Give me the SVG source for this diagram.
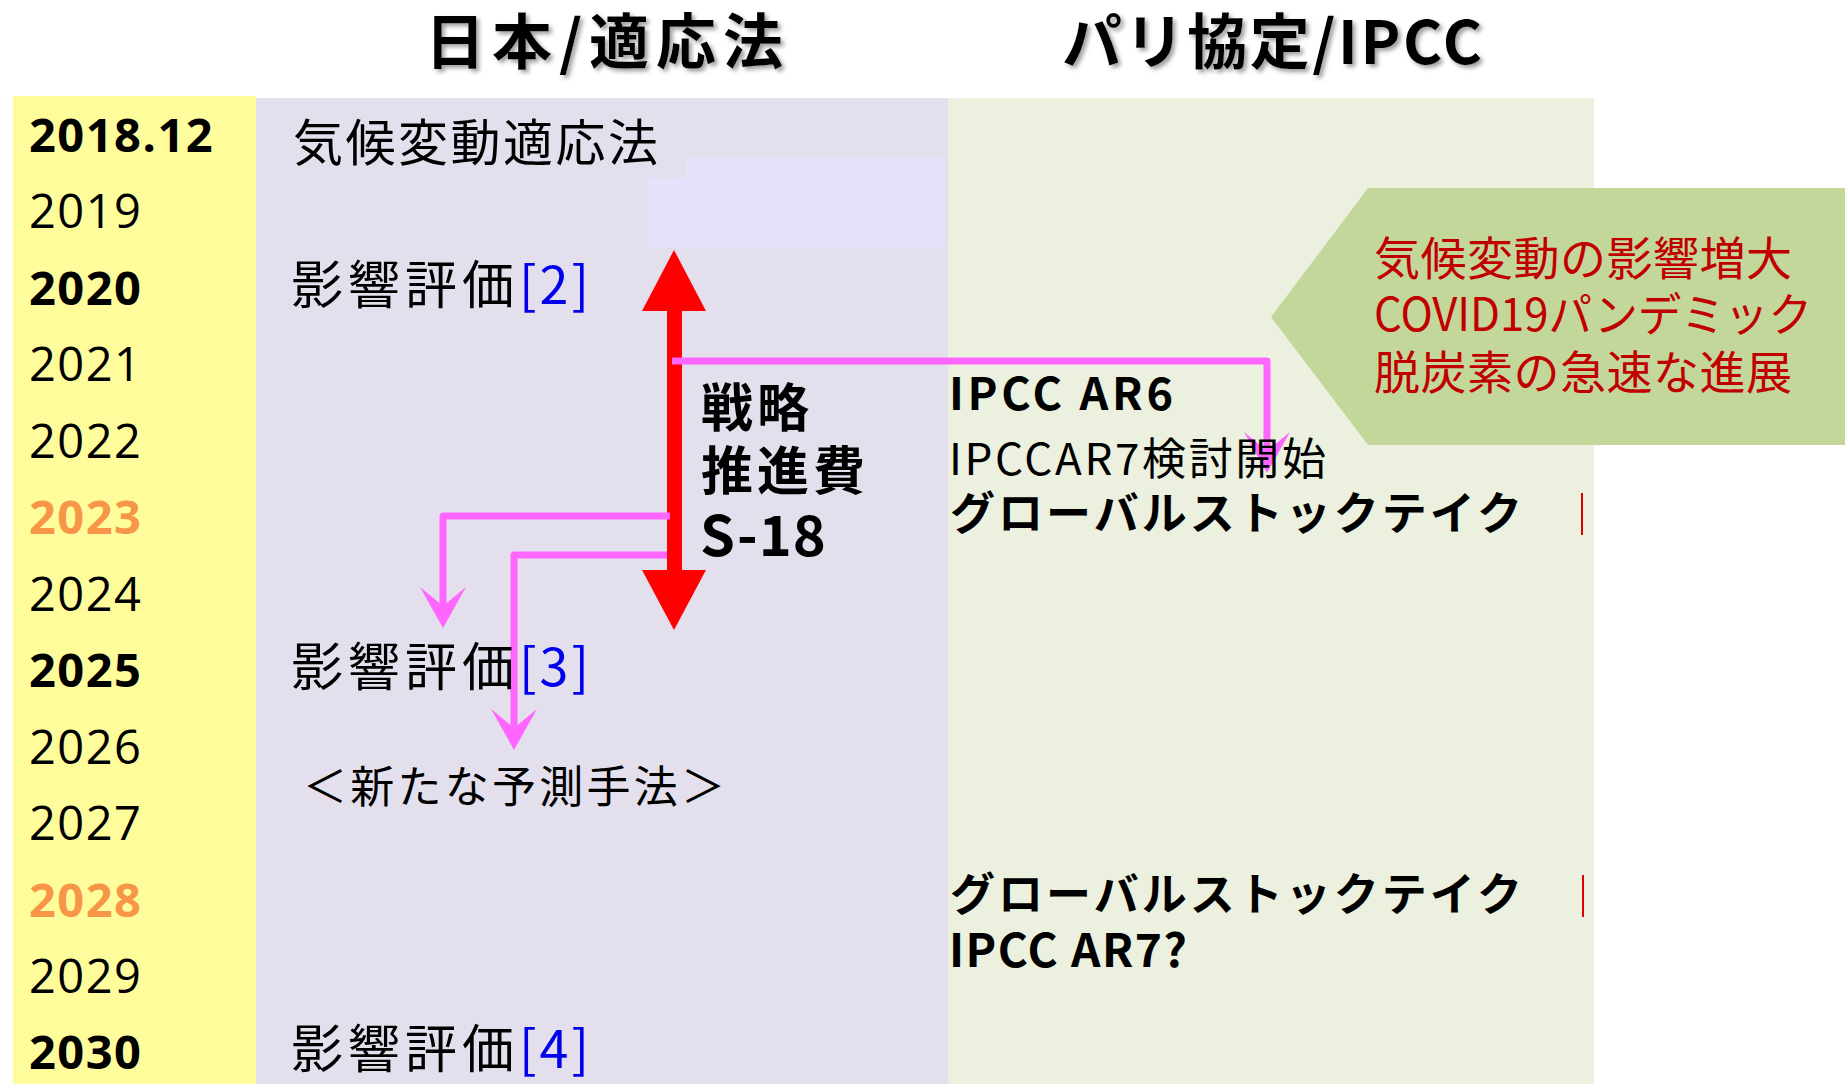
<svg xmlns="http://www.w3.org/2000/svg" width="1845" height="1084" viewBox="0 0 1845 1084">
  <defs>
    <style>
      .yr { font-family: "Open Sans", "Noto Sans", sans-serif; font-size: 47px; letter-spacing: 1.5px; fill: #000; }
      .yb { font-weight: 700; }
      .yo { font-weight: 700; fill: #F79646; }
      .jp { font-family: "Noto Sans CJK JP", "Noto Sans", sans-serif; fill: #000; }
      .title { font-size: 60px; font-weight: 700; filter: url(#shadow); }
      .eval { font-size: 52px; letter-spacing: 5px; }
      .num { fill: #0000EE; letter-spacing: 3px; }
      .red { font-family: "Noto Sans CJK JP", sans-serif; font-size: 46px; fill: #C00000; }
      .pink { fill: none; stroke: #FF66FF; stroke-width: 7; stroke-linejoin: round; marker-end: url(#pinkHead); }
    </style>
    <filter id="shadow" filterUnits="userSpaceOnUse" x="0" y="0" width="1845" height="100">
      <feDropShadow dx="3" dy="3" stdDeviation="2" flood-color="#777" flood-opacity="0.7"/>
    </filter>
    <marker id="pinkHead" markerUnits="userSpaceOnUse" markerWidth="50" markerHeight="50" viewBox="0 0 50 50" refX="23" refY="25" orient="auto">
      <path d="M45,25 L4,2 L23,25 L4,48 Z" fill="#FF66FF"/>
    </marker>
  </defs>

  <rect x="0" y="0" width="1845" height="1084" fill="#FFFFFF"/>

  <g id="columns">
    <rect x="13" y="96" width="243" height="988" fill="#FFFC9C"/>
    <rect x="256" y="98" width="692" height="986" fill="#E4DFEC"/>
    <rect x="948" y="98" width="646" height="986" fill="#EBF1DE"/>
    <polygon points="686,157 946,157 946,247 647,247 647,178 686,178" fill="#E6E0FA"/>
  </g>

  <g id="titles">
    <text class="jp title" x="425" y="64" textLength="358" lengthAdjust="spacing">日本/適応法</text>
    <text class="jp title" x="1062" y="64" textLength="420" lengthAdjust="spacing">パリ協定/IPCC</text>
  </g>

  <g id="years">
    <text class="yr yb" x="29" y="152">2018.12</text>
    <text class="yr" x="29" y="228">2019</text>
    <text class="yr yb" x="29" y="305">2020</text>
    <text class="yr" x="29" y="381">2021</text>
    <text class="yr" x="29" y="458">2022</text>
    <text class="yr yo" x="29" y="534">2023</text>
    <text class="yr" x="29" y="611">2024</text>
    <text class="yr yb" x="29" y="687">2025</text>
    <text class="yr" x="29" y="764">2026</text>
    <text class="yr" x="29" y="840">2027</text>
    <text class="yr yo" x="29" y="917">2028</text>
    <text class="yr" x="29" y="993">2029</text>
    <text class="yr yb" x="29" y="1069">2030</text>
  </g>

  <g id="connectors">
    <path id="strategy-arrow" d="M674,250 L706,311 L682,311 L682,570 L706,570 L674,630 L642,570 L667,570 L667,311 L642,311 Z" fill="#FF0000"/>
    <path class="pink" d="M672,361 H1267 V451"/>
    <path class="pink" d="M670,516 H443 V606"/>
    <path class="pink" d="M667,555 H514 V728"/>
  </g>

  <g id="law">
    <text class="jp" x="293" y="161" font-size="50" letter-spacing="2.5">気候変動適応法</text>
  </g>
  <g id="eval2">
    <text class="jp eval" x="291" y="304">影響評価<tspan class="num">[2]</tspan></text>
  </g>
  <g id="eval3">
    <text class="jp eval" x="291" y="686">影響評価<tspan class="num">[3]</tspan></text>
  </g>
  <g id="eval4">
    <text class="jp eval" x="291" y="1068">影響評価<tspan class="num">[4]</tspan></text>
  </g>
  <g id="new-method">
    <text class="jp" x="303" y="803" font-size="44" textLength="422" lengthAdjust="spacing">＜新たな予測手法＞</text>
  </g>
  <g id="strategy">
    <text class="jp" font-size="52" font-weight="700" letter-spacing="4">
      <tspan x="701" y="427">戦略</tspan>
      <tspan x="701" y="490">推進費</tspan>
    </text>
    <text class="jp" x="700" y="556" font-size="56" font-weight="700" letter-spacing="1">S-18</text>
  </g>

  <g id="ar6">
    <text class="jp" x="949" y="410" font-size="45" font-weight="700" textLength="224" lengthAdjust="spacing">IPCC AR6</text>
  </g>
  <g id="ar7-start">
    <text class="jp" x="949" y="475" font-size="44" textLength="377" lengthAdjust="spacing">IPCCAR7検討開始</text>
  </g>
  <g id="stocktake1">
    <text class="jp" x="950" y="530" font-size="45" font-weight="700" textLength="572" lengthAdjust="spacing">グローバルストックテイク</text>
    <line x1="1582" y1="493" x2="1582" y2="535" stroke="#E00000" stroke-width="2"/>
  </g>
  <g id="stocktake2">
    <text class="jp" x="950" y="911" font-size="45" font-weight="700" textLength="572" lengthAdjust="spacing">グローバルストックテイク</text>
    <line x1="1583" y1="875" x2="1583" y2="917" stroke="#E00000" stroke-width="2"/>
  </g>
  <g id="ar7">
    <text class="jp" x="949" y="967" font-size="46" font-weight="700" textLength="238" lengthAdjust="spacing">IPCC AR7?</text>
  </g>

  <g id="callout">
    <polygon points="1368,188 1845,188 1845,445 1368,445 1271,317" fill="#C4D79B"/>
    <text class="red" x="1374" y="275" textLength="418" lengthAdjust="spacing">気候変動の影響増大</text>
    <text class="red" x="1374" y="331" textLength="438" lengthAdjust="spacingAndGlyphs">COVID19パンデミック</text>
    <text class="red" x="1374" y="389" textLength="418" lengthAdjust="spacing">脱炭素の急速な進展</text>
  </g>
</svg>
